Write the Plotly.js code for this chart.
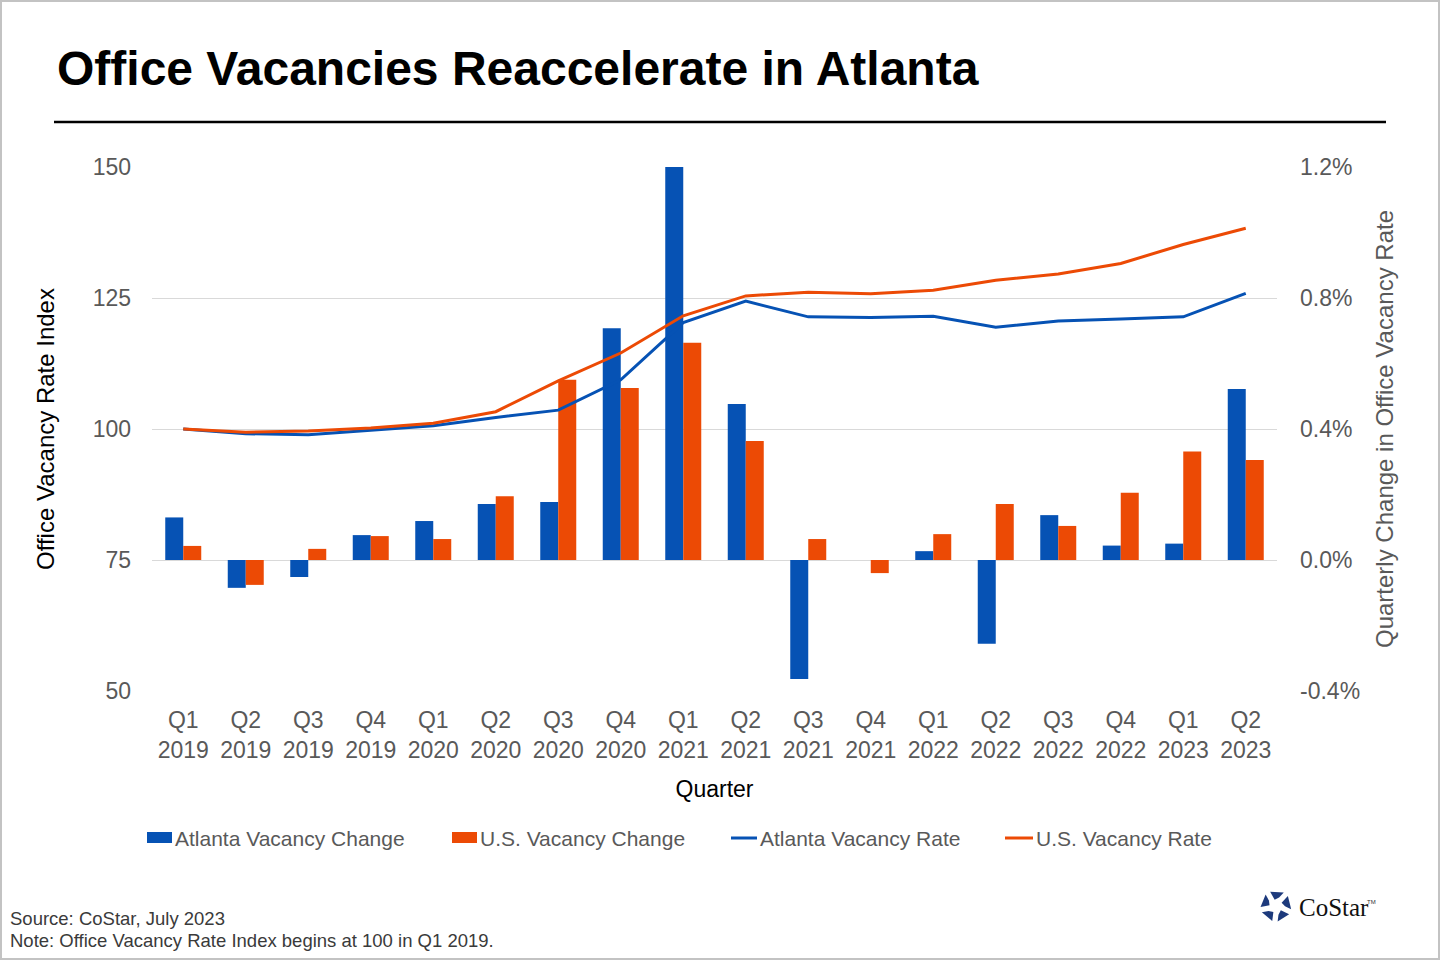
<!DOCTYPE html>
<html>
<head>
<meta charset="utf-8">
<script src="https://cdn.plot.ly/plotly-3.0.1.min.js"></script>
<style>
  html, body { margin: 0; padding: 0; background: #ffffff; }
  #wrap { position: relative; width: 1440px; height: 960px; }
  #chart { width: 1440px; height: 960px; }
  #frame { position: absolute; left: 0; top: 0; width: 1440px; height: 960px; box-sizing: border-box; border: 2px solid #c3c3c3; pointer-events: none; }
</style>
</head>
<body>
<div id="wrap">
  <div id="chart"></div>
  <div id="frame"></div>
</div>
<script>
// ---------------- data ----------------
const quarters = ['Q1 2019','Q2 2019','Q3 2019','Q4 2019','Q1 2020','Q2 2020','Q3 2020','Q4 2020','Q1 2021','Q2 2021','Q3 2021','Q4 2021','Q1 2022','Q2 2022','Q3 2022','Q4 2022','Q1 2023','Q2 2023'];
const tickLabels = ['Q1<br>2019','Q2<br>2019','Q3<br>2019','Q4<br>2019','Q1<br>2020','Q2<br>2020','Q3<br>2020','Q4<br>2020','Q1<br>2021','Q2<br>2021','Q3<br>2021','Q4<br>2021','Q1<br>2022','Q2<br>2022','Q3<br>2022','Q4<br>2022','Q1<br>2023','Q2<br>2023'];
// quarterly change in office vacancy rate (percentage points)
const atlantaChange = [0.13, -0.085, -0.052, 0.076, 0.119, 0.171, 0.177, 0.708, 1.2, 0.476, -0.363, 0.0, 0.027, -0.256, 0.137, 0.044, 0.05, 0.522];
const usChange = [0.043, -0.076, 0.034, 0.073, 0.064, 0.195, 0.55, 0.525, 0.663, 0.363, 0.064, -0.04, 0.079, 0.171, 0.104, 0.205, 0.331, 0.305];
// office vacancy rate index (Q1 2019 = 100)
const atlantaIndex = [100, 99.1, 98.9, 99.7, 100.6, 102.2, 103.6, 109.4, 120.3, 124.4, 121.4, 121.3, 121.5, 119.4, 120.6, 121.0, 121.4, 125.9];
const usIndex = [100, 99.4, 99.6, 100.2, 101.1, 103.3, 109.2, 114.5, 121.6, 125.4, 126.1, 125.8, 126.5, 128.4, 129.6, 131.6, 135.2, 138.3];
const seriesNames = ['Atlanta Vacancy Change', 'U.S. Vacancy Change', 'Atlanta Vacancy Rate', 'U.S. Vacancy Rate'];
const leftTickVals = [50, 75, 100, 125, 150];
const rightTickVals = [-0.4, 0, 0.4, 0.8, 1.2];
const rightTickText = ['-0.4%', '0.0%', '0.4%', '0.8%', '1.2%'];

// ---------------- style ----------------
const BLUE = '#0652B4';
const ORANGE = '#EC4A05';
const FONT = '"Liberation Sans", Arial, "DejaVu Sans", sans-serif';
const TICKGRAY = '#595959';

// plot-area geometry helpers (pixels -> paper)
const L = 152, R = 1277, T = 167, B = 691;
const PX = x => (x - L) / (R - L);
const PY = y => (B - y) / (B - T);

const traces = [
  { type: 'bar', name: seriesNames[0], x: quarters, y: atlantaChange, xaxis: 'x', yaxis: 'y',
    marker: { color: BLUE }, showlegend: false, hoverinfo: 'x+y' },
  { type: 'bar', name: seriesNames[1], x: quarters, y: usChange, xaxis: 'x', yaxis: 'y',
    marker: { color: ORANGE }, showlegend: false, hoverinfo: 'x+y' },
  { type: 'scatter', mode: 'lines', name: seriesNames[2], x: quarters, y: atlantaIndex, xaxis: 'x', yaxis: 'y2',
    line: { color: BLUE, width: 3 }, showlegend: false },
  { type: 'scatter', mode: 'lines', name: seriesNames[3], x: quarters, y: usIndex, xaxis: 'x', yaxis: 'y2',
    line: { color: ORANGE, width: 3 }, showlegend: false }
];

// custom legend
const shapes = [];
const annotations = [];
const legendY = 838;
const legendItems = [
  { kind: 'bar', color: BLUE, x0: 147, x1: 172, tx: 173, name: seriesNames[0] },
  { kind: 'bar', color: ORANGE, x0: 452, x1: 477, tx: 478, name: seriesNames[1] },
  { kind: 'line', color: BLUE, x0: 731, x1: 757, tx: 758, name: seriesNames[2] },
  { kind: 'line', color: ORANGE, x0: 1005, x1: 1033, tx: 1034, name: seriesNames[3] }
];
legendItems.forEach(it => {
  if (it.kind === 'bar') {
    shapes.push({ type: 'rect', xref: 'paper', yref: 'paper', x0: PX(it.x0), x1: PX(it.x1), y0: PY(legendY + 5), y1: PY(legendY - 6),
      fillcolor: it.color, line: { width: 0 } });
  } else {
    shapes.push({ type: 'line', xref: 'paper', yref: 'paper', x0: PX(it.x0), x1: PX(it.x1), y0: PY(legendY), y1: PY(legendY),
      line: { color: it.color, width: 3 } });
  }
  annotations.push({ xref: 'paper', yref: 'paper', x: PX(it.tx), y: PY(legendY), xanchor: 'left', yanchor: 'middle',
    text: it.name, showarrow: false, font: { family: FONT, size: 21, color: TICKGRAY } });
});

// title rule
shapes.push({ type: 'line', xref: 'paper', yref: 'paper', x0: PX(54), x1: PX(1386), y0: PY(122), y1: PY(122),
  line: { color: '#000000', width: 2.5 } });

// source notes
annotations.push({ xref: 'paper', yref: 'paper', x: PX(8), y: PY(918), xanchor: 'left', yanchor: 'middle',
  text: 'Source: CoStar, July 2023', showarrow: false, font: { family: FONT, size: 18.5, color: '#3a3a3a' } });
annotations.push({ xref: 'paper', yref: 'paper', x: PX(8), y: PY(940), xanchor: 'left', yanchor: 'middle',
  text: 'Note: Office Vacancy Rate Index begins at 100 in Q1 2019.', showarrow: false, font: { family: FONT, size: 18.5, color: '#3a3a3a' } });

// CoStar logo mark (pinwheel of five pieces)
const cx = 1276, cy = 906;
const toP = (r, deg) => {
  const a = deg * Math.PI / 180;
  return [PX(cx + r * Math.cos(a)), PY(cy + r * Math.sin(a))];
};
for (let k = 0; k < 5; k++) {
  const a = -90 + 72 * k;
  const pts = [toP(15.5, a - 22), toP(15.5, a + 30), toP(9, a + 20), toP(6.5, a - 12)];
  const d = 'M ' + pts.map(p => p[0] + ' ' + p[1]).join(' L ') + ' Z';
  shapes.push({ type: 'path', xref: 'paper', yref: 'paper', path: d, fillcolor: '#1D3A7C', line: { width: 0 } });
}
annotations.push({ xref: 'paper', yref: 'paper', x: PX(1297), y: PY(908), xanchor: 'left', yanchor: 'middle',
  text: 'CoStar', showarrow: false, font: { family: '"Liberation Serif", "DejaVu Serif", serif', size: 25, color: '#111111' } });
annotations.push({ xref: 'paper', yref: 'paper', x: PX(1365), y: PY(902), xanchor: 'left', yanchor: 'middle',
  text: 'TM', showarrow: false, font: { family: FONT, size: 6, color: '#333333' } });

const layout = {
  width: 1440, height: 960,
  margin: { l: L, r: 1440 - R, t: T, b: 960 - B, pad: 0 },
  paper_bgcolor: '#ffffff', plot_bgcolor: '#ffffff',
  font: { family: FONT, color: TICKGRAY },
  title: {
    text: '<b>Office Vacancies Reaccelerate in Atlanta</b>',
    font: { family: FONT, size: 48, color: '#000000' },
    xref: 'container', yref: 'container', x: 57 / 1440, xanchor: 'left', y: 1 - 68 / 960, yanchor: 'middle'
  },
  barmode: 'group', bargap: 0.424, bargroupgap: 0,
  showlegend: false,
  xaxis: {
    type: 'category', tickvals: quarters, ticktext: tickLabels,
    tickfont: { family: FONT, size: 23, color: TICKGRAY },
    showgrid: false, zeroline: false, showline: false, ticks: '',
    ticklabelstandoff: 13,
    title: { text: 'Quarter', font: { family: FONT, size: 23, color: '#000000' }, standoff: 18 }
  },
  yaxis: {
    side: 'right', range: [-0.4, 1.2], tickvals: rightTickVals, ticktext: rightTickText,
    tickfont: { family: FONT, size: 23, color: TICKGRAY },
    showgrid: true, gridcolor: '#d9d9d9', gridwidth: 1, zeroline: false, showline: false, ticks: '',
    ticklabelstandoff: 22,
    title: { text: 'Quarterly Change in Office Vacancy Rate', font: { family: FONT, size: 24, color: TICKGRAY }, standoff: 17 }
  },
  yaxis2: {
    overlaying: 'y', side: 'left', range: [50, 150], tickvals: leftTickVals,
    tickfont: { family: FONT, size: 23, color: TICKGRAY },
    showgrid: false, zeroline: false, showline: false, ticks: '',
    ticklabelstandoff: 20,
    title: { text: 'Office Vacancy Rate Index', font: { family: FONT, size: 24, color: '#000000' }, standoff: 31 }
  },
  shapes: shapes,
  annotations: annotations
};

Plotly.newPlot('chart', traces, layout, { displayModeBar: false, responsive: false });
</script>
</body>
</html>
